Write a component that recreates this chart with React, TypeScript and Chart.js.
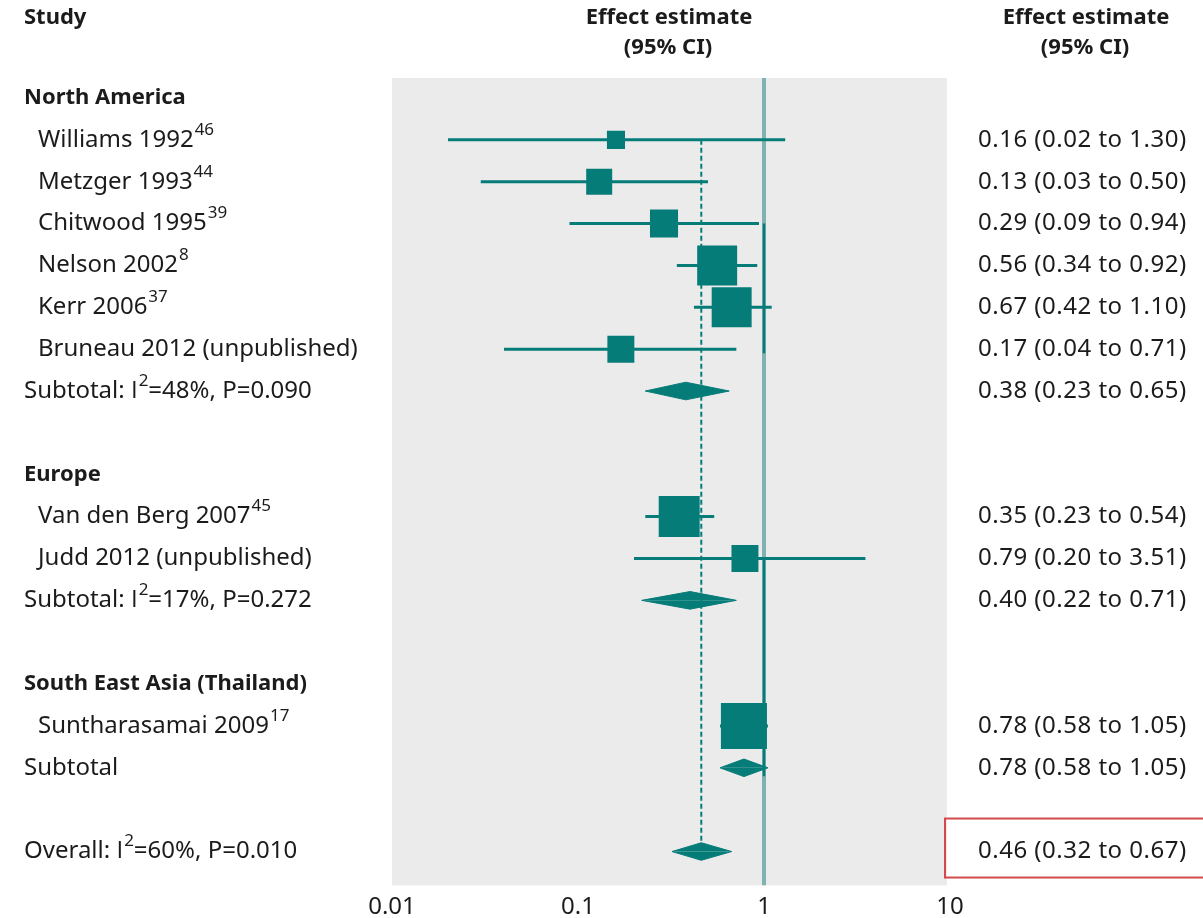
import { useEffect, useRef } from 'react';
import { Chart, registerables } from 'chart.js';

Chart.register(...registerables);

// ---------- data ----------
const groupNames = ['North America', 'Europe', 'South East Asia (Thailand)'];
const groupRows = [0, 9, 14];

const studyNames = [
  'Williams 1992',
  'Metzger 1993',
  'Chitwood 1995',
  'Nelson 2002',
  'Kerr 2006',
  'Bruneau 2012 (unpublished)',
  'Van den Berg 2007',
  'Judd 2012 (unpublished)',
  'Suntharasamai 2009',
];
const studyRefs = ['46', '44', '39', '8', '37', '', '45', '', '17'];
const studyRows = [1, 2, 3, 4, 5, 6, 10, 11, 15];
const studyEstimates = [0.16, 0.13, 0.29, 0.56, 0.67, 0.17, 0.35, 0.79, 0.78];
const studyLower = [0.02, 0.03, 0.09, 0.34, 0.42, 0.04, 0.23, 0.2, 0.58];
const studyUpper = [1.3, 0.5, 0.94, 0.92, 1.1, 0.71, 0.54, 3.51, 1.05];
const studyWeights = [3.2, 6.6, 7.7, 15.6, 15.6, 7.1, 16.4, 7.1, 20.7];

const subtotalRows = [7, 12, 16];
const subtotalEstimates = [0.38, 0.4, 0.78];
const subtotalLower = [0.23, 0.22, 0.58];
const subtotalUpper = [0.65, 0.71, 1.05];
const subtotalI2 = ['48%', '17%', ''];
const subtotalP = ['0.090', '0.272', ''];

const overallRow = 18;
const overallEstimate = 0.46;
const overallLower = 0.32;
const overallUpper = 0.67;
const overallI2 = '60%';
const overallP = '0.010';

const xTickValues = [0.01, 0.1, 1, 10];
const xTickLabels = ['0.01', '0.1', '1', '10'];

// ---------- style ----------
const TEAL = '#067c78';
const REF_LIGHT = '#7fb2b3';
const GREY_BG = '#ebebeb';
const TEXT = '#1b1b1b';
const FONT = '"Noto Sans", "Open Sans", sans-serif';
const ALT_FONT = '"Open Sans", sans-serif';
const Y_MIN = -0.477;
const Y_MAX = 18.81;
const DIAMOND_HALF = 0.21;

const fmt = (v: number) => v.toFixed(2);
const ciText = (e: number, l: number, u: number) => `${fmt(e)} (${fmt(l)} to ${fmt(u)})`;

type Part = { t: string; sup?: boolean; alt?: boolean };

function drawSup(ctx: CanvasRenderingContext2D, x: number, y: number, parts: Part[]) {
  let cx = x;
  for (const p of parts) {
    if (p.sup) {
      ctx.font = `17px ${FONT}`;
      ctx.fillText(p.t, cx + 1, y - 10);
      cx += 1;
    } else {
      ctx.font = `24px ${p.alt ? ALT_FONT : FONT}`;
      ctx.fillText(p.t, cx, y);
    }
    cx += ctx.measureText(p.t).width;
  }
}

export default function App() {
  const ref = useRef<HTMLCanvasElement | null>(null);

  useEffect(() => {
    if (!ref.current) return;
    const datasets: any[] = [];

    // reference line at 1
    datasets.push({
      type: 'line',
      data: [{ x: 1, y: Y_MIN }, { x: 1, y: Y_MAX }],
      borderColor: REF_LIGHT,
      borderWidth: 4,
      pointRadius: 0,
      order: 10,
    });
    datasets.push({
      type: 'line',
      data: [{ x: 1, y: 3 }, { x: 1, y: 6.1 }],
      borderColor: TEAL,
      borderWidth: 2.5,
      pointRadius: 0,
      order: 9,
    });
    datasets.push({
      type: 'line',
      data: [{ x: 1, y: 11 }, { x: 1, y: 16.2 }],
      borderColor: TEAL,
      borderWidth: 2.5,
      pointRadius: 0,
      order: 9,
    });

    // dashed overall estimate line
    datasets.push({
      type: 'line',
      data: [{ x: overallEstimate, y: 1 }, { x: overallEstimate, y: overallRow - DIAMOND_HALF }],
      borderColor: TEAL,
      borderWidth: 2,
      borderDash: [5, 3],
      pointRadius: 0,
      order: 8,
    });

    // CI lines
    studyRows.forEach((r, i) => {
      datasets.push({
        type: 'line',
        data: [{ x: studyLower[i], y: r }, { x: studyUpper[i], y: r }],
        borderColor: TEAL,
        borderWidth: 3,
        pointRadius: 0,
        order: 5,
      });
    });

    // squares
    datasets.push({
      type: 'line',
      showLine: false,
      data: studyRows.map((r, i) => ({ x: studyEstimates[i], y: r })),
      pointStyle: 'rect',
      pointRadius: studyWeights.map((w) => (10.12 * Math.sqrt(w)) / Math.SQRT2),
      pointBackgroundColor: TEAL,
      pointBorderWidth: 0,
      pointBorderColor: TEAL,
      order: 1,
    });

    // diamonds
    const dRows = [...subtotalRows, overallRow];
    const dEst = [...subtotalEstimates, overallEstimate];
    const dLo = [...subtotalLower, overallLower];
    const dHi = [...subtotalUpper, overallUpper];
    dRows.forEach((r, i) => {
      [-1, 1].forEach((s) => {
        datasets.push({
          type: 'line',
          data: [
            { x: dLo[i], y: r },
            { x: dEst[i], y: r + s * DIAMOND_HALF },
            { x: dHi[i], y: r },
          ],
          borderColor: TEAL,
          borderWidth: 1,
          backgroundColor: TEAL,
          fill: { value: r },
          pointRadius: 0,
          order: 2,
        });
      });
    });

    const textPlugin = {
      id: 'forestText',
      beforeDraw(chart: any) {
        const { ctx, chartArea } = chart;
        ctx.save();
        ctx.fillStyle = '#ffffff';
        ctx.fillRect(0, 0, chart.width, chart.height);
        ctx.fillStyle = GREY_BG;
        ctx.fillRect(chartArea.left, chartArea.top, chartArea.right - chartArea.left - 3, chartArea.bottom - chartArea.top);
        ctx.restore();
      },
      afterDraw(chart: any) {
        const { ctx } = chart;
        const y = chart.scales.y;
        ctx.save();
        ctx.fillStyle = TEXT;
        ctx.textBaseline = 'middle';

        // headers
        ctx.textAlign = 'left';
        ctx.font = `bold 22px ${FONT}`;
        ctx.fillText('Study', 24, 18);
        ctx.textAlign = 'center';
        ctx.fillText('Effect estimate', 669, 18);
        ctx.fillText('(95% CI)', 668, 48);
        ctx.fillText('Effect estimate', 1086, 18);
        ctx.fillText('(95% CI)', 1085, 48);

        ctx.textAlign = 'left';
        groupNames.forEach((g, i) => {
          ctx.font = `bold 22px ${FONT}`;
          ctx.fillText(g, 24, y.getPixelForValue(groupRows[i]));
        });

        const drawRight = (s: string, py: number) => {
          ctx.font = `24px ${FONT}`;
          (ctx as any).letterSpacing = '0.5px';
          ctx.fillText(s, 978, py);
          (ctx as any).letterSpacing = '0px';
        };

        studyNames.forEach((n, i) => {
          const py = y.getPixelForValue(studyRows[i]);
          const parts: Part[] = [{ t: n }];
          if (studyRefs[i]) parts.push({ t: studyRefs[i], sup: true });
          drawSup(ctx, 38, py, parts);
          drawRight(ciText(studyEstimates[i], studyLower[i], studyUpper[i]), py);
        });
        subtotalRows.forEach((r, i) => {
          const py = y.getPixelForValue(r);
          if (subtotalI2[i]) {
            drawSup(ctx, 24, py, [
              { t: 'Subtotal: ' },
              { t: 'I', alt: true },
              { t: '2', sup: true },
              { t: `=${subtotalI2[i]}, P=${subtotalP[i]}` },
            ]);
          } else {
            drawSup(ctx, 24, py, [{ t: 'Subtotal' }]);
          }
          drawRight(ciText(subtotalEstimates[i], subtotalLower[i], subtotalUpper[i]), py);
        });
        const oy = y.getPixelForValue(overallRow);
        drawSup(ctx, 24, oy, [
          { t: 'Overall: ' },
          { t: 'I', alt: true },
          { t: '2', sup: true },
          { t: `=${overallI2}, P=${overallP}` },
        ]);
        drawRight(ciText(overallEstimate, overallLower, overallUpper), oy);

        ctx.strokeStyle = '#d24a4c';
        ctx.lineWidth = 2;
        ctx.strokeRect(945, oy - 33, 270, 59);
        ctx.restore();
      },
    };

    const chart = new Chart(ref.current, {
      type: 'line',
      data: { datasets },
      options: {
        animation: false,
        responsive: false,
        events: [],
        layout: { padding: { left: 392, right: 253, top: 78, bottom: 0 } },
        plugins: { legend: { display: false }, tooltip: { enabled: false } },
        scales: {
          x: {
            type: 'logarithmic',
            min: 0.01,
            max: 10,
            grid: { display: false, drawTicks: false },
            border: { display: false },
            afterBuildTicks: (scale: any) => {
              scale.ticks = xTickValues.map((v) => ({ value: v }));
            },
            afterFit: (scale: any) => {
              scale.height = 32;
            },
            ticks: {
              padding: 10,
              color: TEXT,
              font: { family: FONT, size: 24, lineHeight: 1 },
              maxRotation: 0,
              autoSkip: false,
              callback: (_v: any, i: number) => xTickLabels[i],
            },
          },
          y: {
            type: 'linear',
            display: false,
            reverse: true,
            min: Y_MIN,
            max: Y_MAX,
          },
        },
      },
      plugins: [textPlugin],
    } as any);
    return () => chart.destroy();
  }, []);

  return (
    <div style={{ position: 'absolute', left: 0, top: 0, width: 1203, height: 918 }}>
      <canvas ref={ref} width={1203} height={918} style={{ width: 1203, height: 918 }} />
    </div>
  );
}
